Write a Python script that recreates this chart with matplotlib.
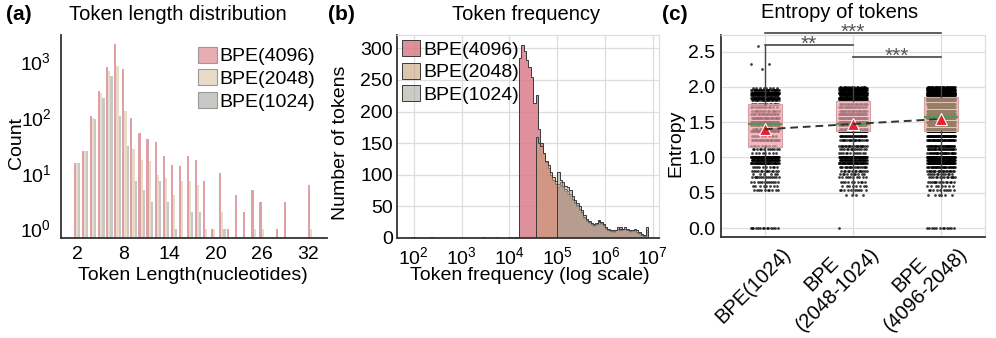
import numpy as np
import matplotlib
matplotlib.use('Agg')
import matplotlib.pyplot as plt
from matplotlib.colors import to_rgba
from matplotlib.patches import Patch
from matplotlib.transforms import ScaledTranslation

plt.rcParams['font.family'] = ['Liberation Sans', 'DejaVu Sans']
plt.rcParams['font.size'] = 14
plt.rcParams['mathtext.fontset'] = 'custom'
plt.rcParams['mathtext.rm'] = 'Liberation Sans'
plt.rcParams['axes.unicode_minus'] = False

# ---------------- data ----------------
series_labels = ['BPE(4096)', 'BPE(2048)', 'BPE(1024)']

# (a) token length histogram: 30 bins between these edges
len_edge_lo, len_edge_hi, len_nbins = 1.45, 32.95, 30
len_counts_4096 = [15, 24, 105, 284, 772, 2000, 711, 95, 51, 40, 36, 20, 14, 13, 20,
                   17, 7, 1, 10, 1, 4, 2, 5, 3, 0, 1, 3, 0, 0, 6]
len_counts_2048 = [15, 24, 95, 262, 672, 815, 126, 27, 17, 16, 9, 8, 4, 7, 7,
                   6, 1, 1, 2, 0, 0, 0, 1, 1, 0, 0, 0, 0, 0, 1]
len_counts_1024 = [15, 24, 91, 219, 537, 105, 30, 7, 5, 3, 7, 3, 1, 0, 2,
                   2, 0, 0, 1, 0, 0, 0, 0, 0, 0, 0, 0, 0, 0, 0]
len_ticks = [2, 8, 14, 20, 26, 32]

# (b) token frequency histogram, log10 bins of 0.05 from 1.9 to 6.9
freq_log_lo, freq_log_hi, freq_bin = 1.9, 6.9, 0.05
freq_start_4096, freq_start_2048, freq_start_1024 = 4.2, 4.55, 5.0
freq_counts_4096 = [284, 305, 295, 281, 271, 255, 213,
                    226, 172, 150, 135, 120, 110, 100, 92, 85,
                    80, 84, 80, 75, 70, 66, 60, 55, 50, 44, 40, 31, 27, 24, 21, 19, 21, 29,
                    22, 19, 15, 12, 11, 10, 12, 14, 17, 13, 14, 12, 10, 11, 11, 9, 7, 4, 2, 10]
freq_counts_2048 = [160, 150, 145, 135, 122, 115, 105, 96, 90,
                    86, 88, 82, 78, 75, 70, 62, 57, 52, 46, 41, 33, 28, 25, 22, 20, 22, 25,
                    24, 20, 16, 13, 11, 11, 12, 15, 13, 14, 15, 13, 11, 12, 12, 10, 8, 5, 3, 12]
freq_counts_1024 = [104, 92, 88, 83, 80, 76, 67, 60, 55, 51, 45, 36, 30, 27, 24, 22, 24, 27,
                    25, 22, 17, 14, 12, 12, 13, 17, 14, 15, 17, 14, 12, 13, 14, 12, 10, 6, 4, 17]
rare_token_log_freq_4096 = [1.98, 2.02, 2.37, 3.45, 3.72, 4.02, 4.12, 4.17]
freq_tick_exps = [2, 3, 4, 5, 6, 7]

# (c) entropy of tokens
ent_categories = ['BPE(1024)', 'BPE\n(2048-1024)', 'BPE\n(4096-2048)']
ent_q1 = [1.15, 1.38, 1.38]
ent_median = [1.47, 1.47, 1.57]
ent_q3 = [1.755, 1.805, 1.86]
ent_mean = [1.40, 1.475, 1.545]
ent_whislo = [0.54, 0.47, 0.45]
ent_whishi = [2.58, 2.0, 2.0]
ent_levels = [0.0, 0.47, 0.54, 0.59, 0.65, 0.72, 0.76, 0.81, 0.86, 0.92, 0.97, 1.0, 1.06,
              1.12, 1.16, 1.25, 1.3, 1.37, 1.41, 1.46, 1.5, 1.56, 1.61, 1.66, 1.72, 1.76,
              1.81, 1.84, 1.88, 1.92, 1.95, 1.98, 2.0, 2.25, 2.32, 2.58]
ent_counts_1024 = [14, 0, 10, 8, 12, 14, 6, 14, 10, 40, 45, 70, 8, 12, 10, 25, 10, 30, 18,
                   25, 45, 30, 20, 15, 12, 14, 22, 40, 35, 80, 30, 8, 0, 1, 2, 1]
ent_counts_2048 = [1, 4, 10, 8, 10, 10, 10, 14, 18, 40, 40, 60, 12, 14, 20, 20, 30, 55, 25,
                   30, 60, 40, 40, 25, 22, 22, 35, 60, 50, 80, 60, 30, 15, 0, 0, 0]
ent_counts_4096 = [12, 6, 10, 8, 14, 14, 12, 20, 30, 60, 60, 90, 30, 30, 35, 40, 60, 70, 45,
                   50, 90, 70, 70, 50, 45, 45, 70, 110, 90, 140, 100, 60, 30, 0, 0, 0]
sig_pairs = [(0, 1), (1, 2), (0, 2)]
sig_labels = ['**', '***', '***']
sig_heights = [2.60, 2.43, 2.77]

# ---------------- figure ----------------
W, H = 996, 338
fig = plt.figure(figsize=(W / 100, H / 100), dpi=100)


def px_axes(l, t, r, b):
    return fig.add_axes([l / W, 1 - b / H, (r - l) / W, (b - t) / H])


def ftext(x, y, s, **kw):
    fig.text(x / W, 1 - y / H, s, **kw)


dark = '#333333'
gridc = '#dedede'

# ---- (a) ----
axa = px_axes(61, 35, 327, 238)
edges_a = np.linspace(len_edge_lo, len_edge_hi, len_nbins + 1)
centers_a = 0.5 * (edges_a[:-1] + edges_a[1:])
cols_a = ['#e0a0a8', '#e8dcc8', '#c8c8c4']
axa.hist([centers_a] * 3, bins=edges_a,
         weights=[len_counts_4096, len_counts_2048, len_counts_1024],
         log=True, color=cols_a, label=series_labels)
axa.set_yscale('log')
axa.set_ylim(0.68, 2900)
axa.set_xlim(-0.12, 34.5)
axa.set_xticks(len_ticks)
axa.set_yticks([1, 10, 100, 1000])
axa.minorticks_off()
for s in ['top', 'right']:
    axa.spines[s].set_visible(False)
for s in ['left', 'bottom']:
    axa.spines[s].set_color(dark)
    axa.spines[s].set_linewidth(1.3)
axa.tick_params(length=0)
axa.tick_params(axis='x', pad=6)
axa.tick_params(axis='y', pad=7)
ha = [Patch(facecolor=c, edgecolor='#999999', linewidth=0.8) for c in ['#e6adb3', '#e8dcc8', '#c8c8c4']]
axa.legend(ha, series_labels, loc='upper right', frameon=False, borderpad=0.1,
           borderaxespad=0.5, handlelength=0.95, handleheight=0.9, handletextpad=0.15,
           labelspacing=0.2, fontsize=14)

# ---- (b) ----
axb = px_axes(397, 35, 659, 238)
nb = int(round((freq_log_hi - freq_log_lo) / freq_bin))
log_edges = freq_log_lo + freq_bin * np.arange(nb + 1)
edges_b = 10 ** log_edges
centers_b = 10 ** (0.5 * (log_edges[:-1] + log_edges[1:]))


def full_counts(start, vals):
    arr = np.zeros(nb)
    i0 = int(round((start - freq_log_lo) / freq_bin))
    arr[i0:i0 + len(vals)] = vals
    return arr


c4096 = full_counts(freq_start_4096, freq_counts_4096)
c4096 += np.histogram(rare_token_log_freq_4096, bins=log_edges)[0]
c2048 = full_counts(freq_start_2048, freq_counts_2048)
c1024 = full_counts(freq_start_1024, freq_counts_1024)

cols_b = [to_rgba('#d6727f', 0.78), to_rgba('#c79d74', 0.58), to_rgba('#a2a29a', 0.55)]
for cnt, col, lab in zip([c4096, c2048, c1024], cols_b, series_labels):
    axb.hist(centers_b, bins=edges_b, weights=cnt, histtype='stepfilled',
             facecolor=col, edgecolor='#3a3a3a', linewidth=0.7, label=lab)
axb.set_xscale('log')
axb.set_xlim(10 ** 1.65, 10 ** 7.13)
axb.set_ylim(0, 321)
axb.set_xticks([10.0 ** e for e in freq_tick_exps])
axb.set_xticklabels([r'$\mathdefault{10^{%d}}$' % e for e in freq_tick_exps])
axb.minorticks_off()
axb.set_yticks([0, 50, 100, 150, 200, 250, 300])
axb.grid(True, color=gridc, linewidth=0.9)
axb.set_axisbelow(True)
for s in ['top', 'right']:
    axb.spines[s].set_color(gridc)
    axb.spines[s].set_linewidth(0.9)
for s in ['left', 'bottom']:
    axb.spines[s].set_color(dark)
    axb.spines[s].set_linewidth(1.3)
axb.tick_params(length=0)
axb.tick_params(axis='x', pad=6)
axb.tick_params(axis='y', pad=3)
axb.legend(loc='upper left', frameon=False, borderpad=0.1, borderaxespad=0.15,
           handlelength=0.95, handleheight=0.9, handletextpad=0.15, labelspacing=0.2,
           fontsize=14)

# ---- (c) ----
axc = px_axes(721, 35, 985, 237)
positions = np.arange(len(ent_categories))
all_counts = [ent_counts_1024, ent_counts_2048, ent_counts_4096]
golden = 0.6180339887
for i, cnts in enumerate(all_counts):
    yv = np.repeat(ent_levels, cnts)
    k = np.arange(len(yv))
    jit = ((k * golden) % 1.0 - 0.5) * 0.32
    axc.scatter(positions[i] + jit, yv, s=4, color='black', alpha=0.75,
                linewidths=0, zorder=2)

stats = []
for i in range(len(ent_categories)):
    stats.append(dict(med=ent_median[i], q1=ent_q1[i], q3=ent_q3[i],
                      whislo=ent_whislo[i], whishi=ent_whishi[i], mean=ent_mean[i],
                      fliers=[]))
bp = axc.bxp(stats, positions=positions, widths=0.38, patch_artist=True,
             showmeans=True, showcaps=False, showfliers=False,
             medianprops=dict(color='#4e9a4e', linewidth=1.6),
             meanprops=dict(marker='^', markerfacecolor='#e8202a', markeredgecolor='white',
                            markeredgewidth=0.8, markersize=8),
             whiskerprops=dict(color='#444444', linewidth=1.0),
             boxprops=dict(linewidth=0.8), zorder=3)
box_cols = ['#eb9ea8', '#eeaab2', '#d4b092']
for patch, c in zip(bp['boxes'], box_cols):
    patch.set_facecolor(to_rgba(c, 0.7))
    patch.set_edgecolor('#d8a0a6')
axc.plot(positions, ent_mean, linestyle=(0, (4, 2.5)), color='#333333', linewidth=1.4,
         zorder=4)
for (a, b), lab, h in zip(sig_pairs, sig_labels, sig_heights):
    axc.plot([a, b], [h, h], color='#444444', linewidth=1.2, clip_on=False, zorder=5)
    axc.text((a + b) / 2, h - 0.13, lab, ha='center', va='bottom', fontsize=15,
             color='#555555', clip_on=False, zorder=5)
axc.set_xlim(-0.5, 2.5)
axc.set_ylim(-0.127, 2.736)
axc.set_yticks([0.0, 0.5, 1.0, 1.5, 2.0, 2.5])
axc.set_yticklabels(['0.0', '0.5', '1.0', '1.5', '2.0', '2.5'])
axc.set_xticks(positions)
axc.tick_params(axis='x', labelbottom=False)
lab_trans = axc.get_xaxis_transform() + ScaledTranslation(30 / 100, -21 / 100, fig.dpi_scale_trans)
for p, lab in zip(positions, ent_categories):
    axc.text(p, 0, lab, transform=lab_trans, rotation=45, ha='right', va='bottom',
             rotation_mode='anchor', multialignment='center', fontsize=14.5,
             clip_on=False)
axc.grid(True, color=gridc, linewidth=0.9)
axc.set_axisbelow(True)
for s in ['top', 'right']:
    axc.spines[s].set_color(gridc)
    axc.spines[s].set_linewidth(0.9)
for s in ['left', 'bottom']:
    axc.spines[s].set_color(dark)
    axc.spines[s].set_linewidth(1.3)
axc.tick_params(length=0)
axc.tick_params(axis='y', pad=4)

# ---- titles and labels ----
ftext(6, 15, '(a)', fontsize=15, fontweight='bold', ha='left', va='center')
ftext(328, 15, '(b)', fontsize=15, fontweight='bold', ha='left', va='center')
ftext(662, 15, '(c)', fontsize=15, fontweight='bold', ha='left', va='center')
ftext(178, 15, 'Token length distribution', fontsize=14.5, ha='center', va='center')
ftext(526, 15, 'Token frequency', fontsize=14.5, ha='center', va='center')
ftext(840, 13, 'Entropy of tokens', fontsize=14.5, ha='center', va='center')
ftext(17, 143, 'Count', fontsize=14, rotation=90, ha='center', va='center')
ftext(340, 143, 'Number of tokens', fontsize=14, rotation=90, ha='center', va='center')
ftext(676, 143, 'Entropy', fontsize=14, rotation=90, ha='center', va='center')
ftext(193, 275, 'Token Length(nucleotides)', fontsize=14, ha='center', va='center')
ftext(530, 275, 'Token frequency (log scale)', fontsize=14, ha='center', va='center')

fig.savefig('out.png', dpi=100)
